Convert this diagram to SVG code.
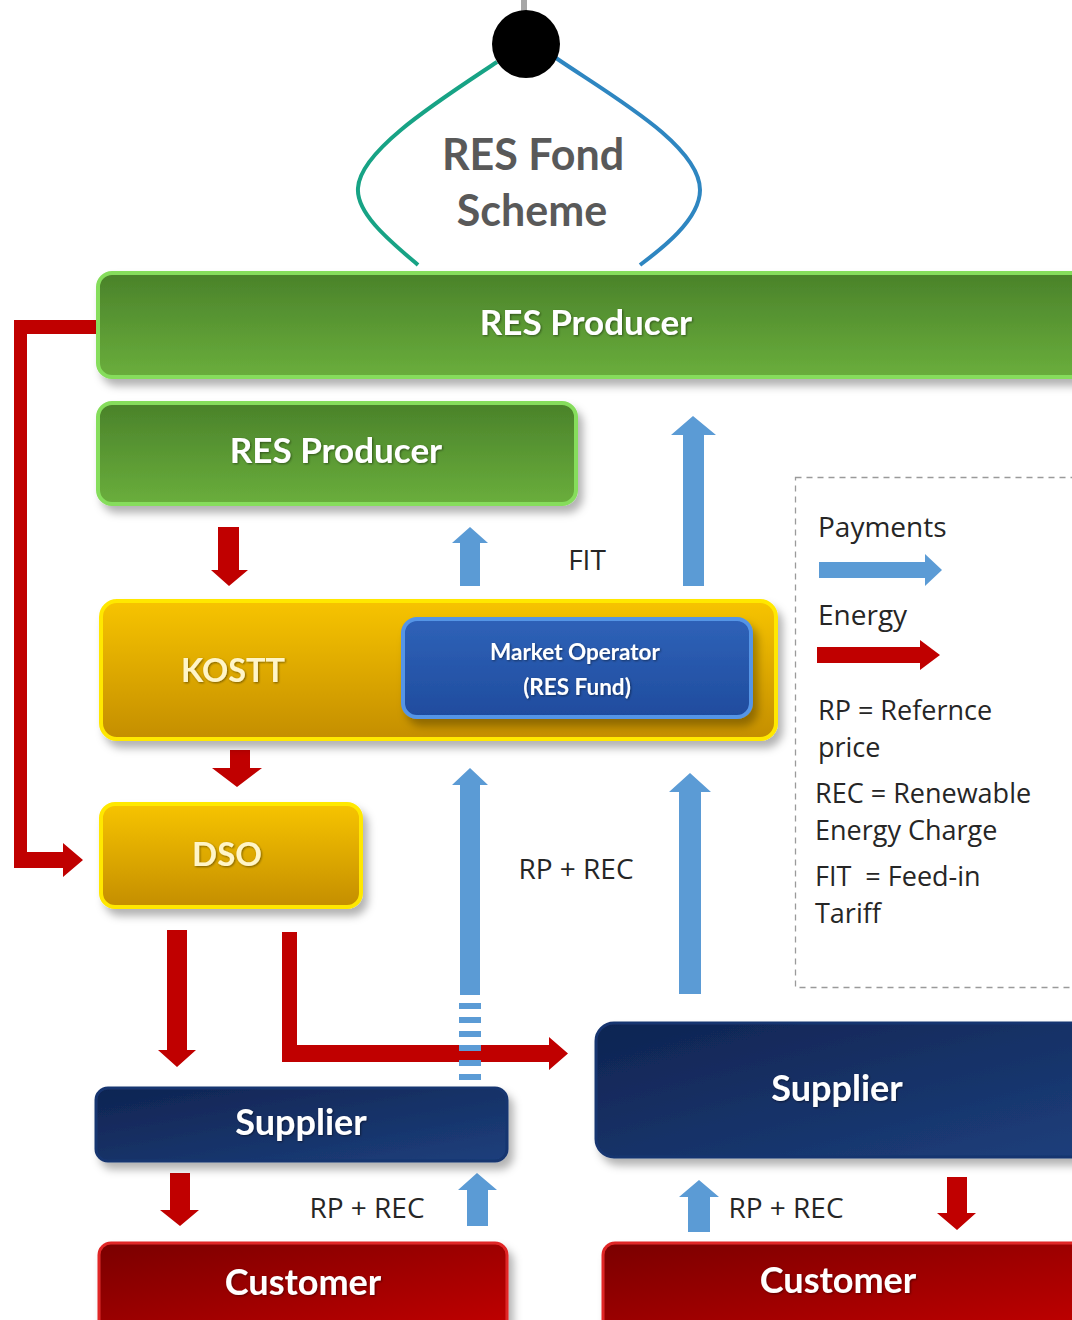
<svg xmlns="http://www.w3.org/2000/svg" width="1072" height="1320" viewBox="0 0 1072 1320">
<defs>
  <linearGradient id="gGreen" x1="0" y1="0" x2="0" y2="1">
    <stop offset="0" stop-color="#4a822a"/>
    <stop offset="1" stop-color="#6aae3c"/>
  </linearGradient>
  <linearGradient id="gYellow" x1="0" y1="0" x2="0" y2="1">
    <stop offset="0" stop-color="#f7c400"/>
    <stop offset="1" stop-color="#c48e00"/>
  </linearGradient>
  <linearGradient id="gBlue" x1="0" y1="0" x2="0" y2="1">
    <stop offset="0" stop-color="#2f62b8"/>
    <stop offset="1" stop-color="#1f4c9e"/>
  </linearGradient>
  <linearGradient id="gNavy" x1="0" y1="0" x2="1" y2="1">
    <stop offset="0" stop-color="#0f2452"/>
    <stop offset="1" stop-color="#1d3f7c"/>
  </linearGradient>
  <linearGradient id="gRed" x1="0" y1="0" x2="1" y2="1">
    <stop offset="0" stop-color="#7a0000"/>
    <stop offset="1" stop-color="#c20000"/>
  </linearGradient>
  <filter id="shadow" x="-10%" y="-20%" width="125%" height="160%">
    <feDropShadow dx="5" dy="7" stdDeviation="4" flood-color="#000" flood-opacity="0.3"/>
  </filter>
  <filter id="tshadow" x="-10%" y="-20%" width="120%" height="150%">
    <feDropShadow dx="1" dy="1" stdDeviation="0.8" flood-color="#000" flood-opacity="0.45"/>
  </filter>
</defs>
<style>
  .green { fill: url(#gGreen); stroke: #86dd5c; stroke-width: 4; }
  .yellow { fill: url(#gYellow); stroke: #ffe800; stroke-width: 4; }
  .blue { fill: url(#gBlue); stroke: #5595e6; stroke-width: 4; }
  .navy { fill: url(#gNavy); stroke: #173670; stroke-width: 3; }
  .red { fill: url(#gRed); stroke: #e02626; stroke-width: 3; }
  .lbl { font-family: Lato, "Liberation Sans", sans-serif; font-weight: 700; fill: #ffffff; text-anchor: middle; }
  .lblY { fill: #fff5c8; }
  .note { font-family: "Open Sans", "Liberation Sans", sans-serif; font-size: 28px; fill: #262626; }
  .leg { font-size: 27px; }
  .mid { text-anchor: middle; }
  .pay { fill: #5b9bd5; }
  .eng { fill: #c00000; }
</style>
<rect width="1072" height="1320" fill="#ffffff"/>

<g id="res-fond-scheme">
  <rect x="521" y="0" width="6" height="13" fill="#a6a6a6"/>
  <path d="M497,62 C440,100 360,150 358,188 C356,215 395,245 418,265" fill="none" stroke="#17a385" stroke-width="4"/>
  <path d="M556,58 C610,95 700,145 700,190 C700,220 660,250 640,265" fill="none" stroke="#2e86c1" stroke-width="4"/>
  <circle cx="526" cy="44" r="34" fill="#000000"/>
  <text x="533" y="170" font-family="Lato, 'Liberation Sans', sans-serif" font-weight="700" font-size="43" fill="#595959" text-anchor="middle">RES Fond</text>
  <text x="532" y="226" font-family="Lato, 'Liberation Sans', sans-serif" font-weight="700" font-size="43" fill="#595959" text-anchor="middle">Scheme</text>
</g>

<g id="connectors">
  <!-- energy (red) -->
  <path class="eng" d="M97,320 L14,320 L14,868 L63,868 L63,877 L83,860 L63,843 L63,852 L27,852 L27,334 L97,334 Z"/>
  <polygon class="eng" points="218,527 239,527 239,570 248,570 229,586 211,570 218,570"/>
  <polygon class="eng" points="230,750 250,750 250,768 262,768 237,787 212,768 230,768"/>
  <polygon class="eng" points="167,930 187,930 187,1050 196,1050 177,1067 158,1050 167,1050"/>
  <path class="eng" d="M282,932 L297,932 L297,1045 L549,1045 L549,1037 L568,1053.5 L549,1070 L549,1062 L282,1062 Z"/>
  <polygon class="eng" points="170,1173 190,1173 190,1210 199,1210 180,1226 160,1210 170,1210"/>
  <polygon class="eng" points="947,1177 967,1177 967,1213 976,1213 957,1230 937,1213 947,1213"/>
  <!-- payments (blue) -->
  <polygon class="pay" points="460,586 460,543 452,543 470,527 488,543 480,543 480,586"/>
  <polygon class="pay" points="683,586 683,435 671,435 693,416 716,435 704,435 704,586"/>
  <polygon class="pay" points="460,995 460,785 452,785 470,768 488,785 480,785 480,995"/>
  <g class="pay">
    <rect x="459" y="1003" width="22" height="6"/>
    <rect x="459" y="1017" width="22" height="6"/>
    <rect x="459" y="1031" width="22" height="6"/>
    <rect x="459" y="1045" width="22" height="6"/>
    <rect x="459" y="1060" width="22" height="6"/>
    <rect x="459" y="1074" width="22" height="6"/>
  </g>
  <polygon class="pay" points="679,994 679,792 669,792 690,773 711,792 701,792 701,994"/>
  <polygon class="pay" points="467,1226 467,1190 458,1190 477,1173 497,1190 488,1190 488,1226"/>
  <polygon class="pay" points="688,1232 688,1197 679,1197 699,1180 719,1197 710,1197 710,1232"/>
  <!-- labels -->
  <text class="note mid" x="587" y="570">FIT</text>
  <text class="note mid" x="576" y="879">RP + REC</text>
  <text class="note mid" x="367" y="1218">RP + REC</text>
  <text class="note mid" x="786" y="1218">RP + REC</text>
</g>

<g id="res-producer-top" filter="url(#shadow)">
  <rect class="green" x="98" y="273" width="1000" height="104" rx="14"/>
  <text class="lbl" x="586" y="335" font-size="35" filter="url(#tshadow)">RES Producer</text>
</g>

<g id="res-producer" filter="url(#shadow)">
  <rect class="green" x="98" y="403" width="478" height="101" rx="14"/>
  <text class="lbl" x="336" y="463" font-size="35" filter="url(#tshadow)">RES Producer</text>
</g>

<g id="kostt" filter="url(#shadow)">
  <rect class="yellow" x="101" y="601" width="675" height="138" rx="16"/>
  <text class="lbl lblY" x="233" y="682" font-size="32.5" filter="url(#tshadow)">KOSTT</text>
</g>

<g id="market-operator" filter="url(#shadow)">
  <rect class="blue" x="403" y="619" width="348" height="98" rx="14"/>
  <text class="lbl" x="575" y="660" font-size="22.5" filter="url(#tshadow)">Market Operator</text>
  <text class="lbl" x="577" y="695" font-size="22.5" filter="url(#tshadow)">(RES Fund)</text>
</g>

<g id="dso" filter="url(#shadow)">
  <rect class="yellow" x="101" y="804" width="260" height="103" rx="14"/>
  <text class="lbl lblY" x="227" y="866" font-size="33" filter="url(#tshadow)">DSO</text>
</g>

<g id="supplier-left" filter="url(#shadow)">
  <rect class="navy" x="96" y="1088" width="411" height="73" rx="12"/>
  <text class="lbl" x="301" y="1135" font-size="36" filter="url(#tshadow)">Supplier</text>
</g>

<g id="supplier-right" filter="url(#shadow)">
  <rect class="navy" x="596" y="1023" width="500" height="134" rx="18"/>
  <text class="lbl" x="837" y="1101" font-size="36" filter="url(#tshadow)">Supplier</text>
</g>

<g id="customer-left" filter="url(#shadow)">
  <rect class="red" x="99" y="1243" width="408" height="90" rx="12"/>
  <text class="lbl" x="303" y="1295" font-size="36" filter="url(#tshadow)">Customer</text>
</g>

<g id="customer-right" filter="url(#shadow)">
  <rect class="red" x="603" y="1243" width="490" height="90" rx="12"/>
  <text class="lbl" x="838" y="1293" font-size="36" filter="url(#tshadow)">Customer</text>
</g>

<g id="legend">
  <rect x="795.5" y="477.5" width="300" height="510" fill="none" stroke="#9a9a9a" stroke-width="1.3" stroke-dasharray="6 5"/>
  <text class="note" x="818" y="537">Payments</text>
  <polygon class="pay" points="819,562 925,562 925,554 942,570 925,586 925,578 819,578"/>
  <text class="note" x="818" y="625">Energy</text>
  <polygon class="eng" points="817,647 920,647 920,640 940,655 920,670 920,663 817,663"/>
  <text class="note leg" x="818" y="720">RP = Refernce</text>
  <text class="note leg" x="818" y="757">price</text>
  <text class="note leg" x="815" y="803">REC = Renewable</text>
  <text class="note leg" x="815" y="840">Energy Charge</text>
  <text class="note leg" x="815" y="886" xml:space="preserve">FIT  = Feed-in</text>
  <text class="note leg" x="815" y="923">Tariff</text>
</g>
</svg>
